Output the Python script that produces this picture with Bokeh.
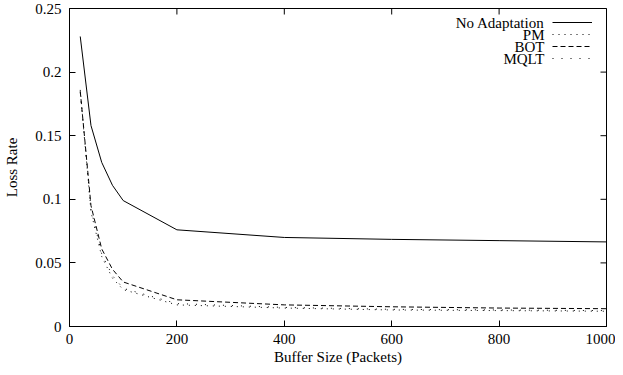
import math
from bokeh.plotting import figure
from bokeh.models import FixedTicker, NumeralTickFormatter, Legend, LegendItem, Label, Range1d
from bokeh.embed import file_html
from bokeh.resources import INLINE

# ---- data ----
buffer_sizes = [20, 40, 60, 80, 100, 200, 400, 600, 800, 1000]
no_adaptation = [0.228, 0.158, 0.129, 0.111, 0.099, 0.076, 0.070, 0.0685, 0.0675, 0.0665]
pm = [0.186, 0.090, 0.055, 0.038, 0.029, 0.017, 0.0145, 0.013, 0.0125, 0.012]
bot = [0.185, 0.095, 0.061, 0.045, 0.035, 0.021, 0.017, 0.0155, 0.0145, 0.014]
mqlt = [0.184, 0.092, 0.057, 0.040, 0.030, 0.018, 0.015, 0.0135, 0.013, 0.0125]

series_names = ["No Adaptation", "PM", "BOT", "MQLT"]
series_values = [no_adaptation, pm, bot, mqlt]
series_dash = ["solid", "1 5", "5 3", "1 8"]

x_ticks = [0, 200, 400, 600, 800, 1000]
y_ticks = [0, 0.05, 0.1, 0.15, 0.2, 0.25]
x_min, x_max = 0, 1000
y_min, y_max = 0, 0.25

FONT = "Liberation Serif"
FS = "15px"

W, H = 615, 367
LEFT, RIGHT, TOP, BOTTOM = 69, 9, 8, 39
p = figure(width=W, height=H, output_backend="svg", toolbar_location=None,
           x_range=Range1d(x_min, x_max), y_range=Range1d(y_min, y_max),
           min_border_left=LEFT, min_border_right=RIGHT, min_border_top=TOP,
           min_border_bottom=BOTTOM)
p.grid.visible = False
p.outline_line_color = "black"
p.outline_line_width = 1
p.background_fill_color = "white"
p.border_fill_color = "white"

for ax in (p.xaxis[0], p.yaxis[0]):
    ax.major_tick_in = 6
    ax.major_tick_out = 0
    ax.minor_tick_line_color = None
    ax.axis_line_color = "black"
    ax.major_tick_line_color = "black"
    ax.major_label_text_font = FONT
    ax.major_label_text_font_size = FS
    ax.major_label_text_color = "black"
    ax.axis_label_text_font = FONT
    ax.axis_label_text_font_size = FS
    ax.axis_label_text_font_style = "normal"
    ax.axis_label_text_color = "black"

p.xaxis.ticker = FixedTicker(ticks=x_ticks)
p.yaxis.ticker = FixedTicker(ticks=y_ticks)
p.yaxis.formatter = NumeralTickFormatter(format="0.[00]")
p.xaxis.formatter = NumeralTickFormatter(format="0")
p.xaxis.axis_label = "Buffer Size (Packets)"
p.yaxis.axis_label = "Loss Rate"
p.xaxis.major_label_standoff = 7
p.xaxis.axis_label_standoff = 2
p.yaxis.major_label_standoff = 8
p.yaxis.axis_label_standoff = 12

# mirrored inward ticks on the top and right edges (half of each dash is clipped)
p.scatter(x=x_ticks, y=[y_max] * len(x_ticks), marker="dash", size=12,
          angle=math.pi / 2, line_color="black", line_width=1)
p.scatter(x=[x_max] * len(y_ticks), y=y_ticks, marker="dash", size=12,
          line_color="black", line_width=1)

renderers = []
for name, vals, dash in zip(series_names, series_values, series_dash):
    r = p.line(buffer_sizes, vals, line_color="black", line_width=1, line_dash=dash)
    renderers.append(r)

# legend: line samples (glyph only) + right-aligned text to their left
frame_h = H - TOP - BOTTOM
row_h = 12
legend_top = 10
legend = Legend(items=[LegendItem(label=" ", renderers=[r]) for r in renderers],
                location=(483, frame_h - legend_top - row_h * len(renderers)),
                glyph_width=40, glyph_height=row_h, spacing=0, padding=0, margin=0,
                label_standoff=0, label_width=0, label_height=row_h,
                label_text_font_size="6px", border_line_color=None,
                background_fill_alpha=0)
p.add_layout(legend, "center")

for i, name in enumerate(series_names):
    p.add_layout(Label(x=475, y=frame_h - legend_top - row_h * (i + 0.5),
                       x_units="screen", y_units="screen", text=name,
                       text_align="right", text_baseline="middle",
                       text_font=FONT, text_font_size=FS, text_color="black"))

open("out.html", "w").write(file_html(p, INLINE))
